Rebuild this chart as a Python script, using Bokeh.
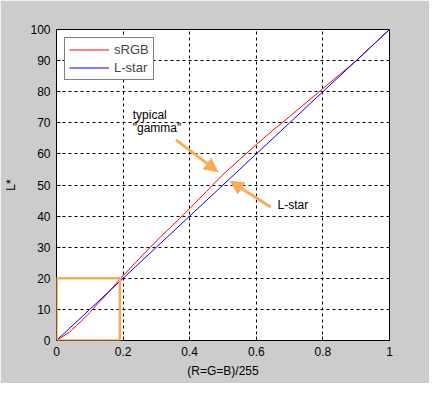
from bokeh.plotting import figure
from bokeh.models import Range1d, FixedTicker, Arrow, NormalHead, Label, Legend, LegendItem, BoxAnnotation
from bokeh.embed import file_html
from bokeh.resources import INLINE

# ---- data ----
srgb_x = [0, 0.02, 0.04, 0.06, 0.08, 0.10, 0.12, 0.14, 0.16, 0.18, 0.20, 0.25, 0.30, 0.35,
          0.40, 0.45, 0.50, 0.55, 0.60, 0.65, 0.70, 0.75, 0.80, 0.85, 0.90, 0.95, 1.00]
srgb_L = [0, 1.4, 2.8, 4.8, 6.8, 9.0, 11.4, 13.6, 16.0, 18.4, 20.8, 26.5, 32.0, 37.2,
          42.4, 47.9, 53.4, 58.2, 63.0, 67.6, 72.0, 76.5, 81.0, 85.5, 89.9, 95.0, 100]
lstar_x = [0, 0.1, 0.2, 0.3, 0.4, 0.5, 0.6, 0.7, 0.8, 0.9, 1.0]
lstar_L = [0, 10, 20, 30, 40, 50, 60, 70, 80, 90, 100]

x_ticks = [0, 0.2, 0.4, 0.6, 0.8, 1.0]
x_tick_labels = ["0", "0.2", "0.4", "0.6", "0.8", "1"]
y_ticks = [0, 10, 20, 30, 40, 50, 60, 70, 80, 90, 100]
y_tick_labels = [str(v) for v in y_ticks]

box_x = [0, 0.19]      # highlighted region
box_L = [0, 20]

series_names = ["sRGB", "L-star"]

# ---- styling ----
FONT = "Liberation Sans"
BG = "#cccccc"
ORANGE = "#fbaa5a"

p = figure(width=429, height=383, output_backend="svg", toolbar_location=None,
           x_range=Range1d(0, 1), y_range=Range1d(0, 100),
           min_border_left=56, min_border_right=40, min_border_top=29, min_border_bottom=43)
p.border_fill_color = BG
p.background_fill_color = "white"
p.outline_line_color = "black"
p.outline_line_width = 1

for ax in (p.xaxis, p.yaxis):
    ax.major_tick_in = 4
    ax.major_tick_out = 0
    ax.minor_tick_line_color = None
    ax.axis_line_color = "black"
    ax.major_tick_line_color = "black"
    ax.major_label_text_font = FONT
    ax.major_label_text_font_size = "12px"
    ax.major_label_text_color = "black"
    ax.axis_label_text_font = FONT
    ax.axis_label_text_font_size = "12px"
    ax.axis_label_text_font_style = "normal"
    ax.axis_label_text_color = "black"
    ax.major_label_standoff = 6

p.xaxis.ticker = FixedTicker(ticks=x_ticks)
p.xaxis.major_label_overrides = {t: l for t, l in zip(x_ticks, x_tick_labels)}
p.yaxis.ticker = FixedTicker(ticks=y_ticks)
p.yaxis.major_label_overrides = {t: l for t, l in zip(y_ticks, y_tick_labels)}
p.xaxis.axis_label = "(R=G=B)/255"
p.yaxis.axis_label = "L*"
p.xaxis.axis_label_standoff = 5
p.yaxis.axis_label_standoff = 9

for g in (p.xgrid, p.ygrid):
    g.grid_line_color = "black"
    g.grid_line_dash = "3 3"
    g.grid_line_width = 1

r1 = p.line(srgb_x, srgb_L, line_color="red", line_width=1)
r2 = p.line(lstar_x, lstar_L, line_color="blue", line_width=1)

# orange highlight box (drawn over the axes)
p.add_layout(BoxAnnotation(left=box_x[0], right=box_x[1], bottom=box_L[0], top=box_L[1],
                           fill_alpha=0, line_color=ORANGE, line_width=2.5, line_alpha=1,
                           level="overlay"))

legend = Legend(items=[LegendItem(label=series_names[0], renderers=[r1]),
                       LegendItem(label=series_names[1], renderers=[r2])],
                location="top_left")
legend.margin = 8
legend.padding = 4
legend.spacing = 3
legend.glyph_width = 40
legend.glyph_height = 15
legend.label_height = 15
legend.label_standoff = 5
legend.label_text_font = FONT
legend.label_text_font_size = "13px"
legend.border_line_color = "black"
legend.border_line_width = 1
legend.background_fill_color = "white"
legend.background_fill_alpha = 1
p.add_layout(legend)

# annotations
for tx, ty, tt in [(0.229, 72.5, "typical"), (0.229, 68.2, "\"gamma\""), (0.664, 43.5, "L-star")]:
    p.add_layout(Label(x=tx, y=ty, text=tt, text_font=FONT, text_font_size="12px",
                       text_baseline="middle", text_color="black"))

head1 = NormalHead(size=13, fill_color=ORANGE, line_color=ORANGE)
p.add_layout(Arrow(end=head1, x_start=0.359, y_start=64.5, x_end=0.484, y_end=54.3,
                   line_color=ORANGE, line_width=3))
head2 = NormalHead(size=13, fill_color=ORANGE, line_color=ORANGE)
p.add_layout(Arrow(end=head2, x_start=0.643, y_start=42.9, x_end=0.522, y_end=51.2,
                   line_color=ORANGE, line_width=3))

html = file_html(p, INLINE)
html = html.replace("<body>", "<body style=\"background:#cccccc\">", 1)
open("out.html", "w").write(html)
